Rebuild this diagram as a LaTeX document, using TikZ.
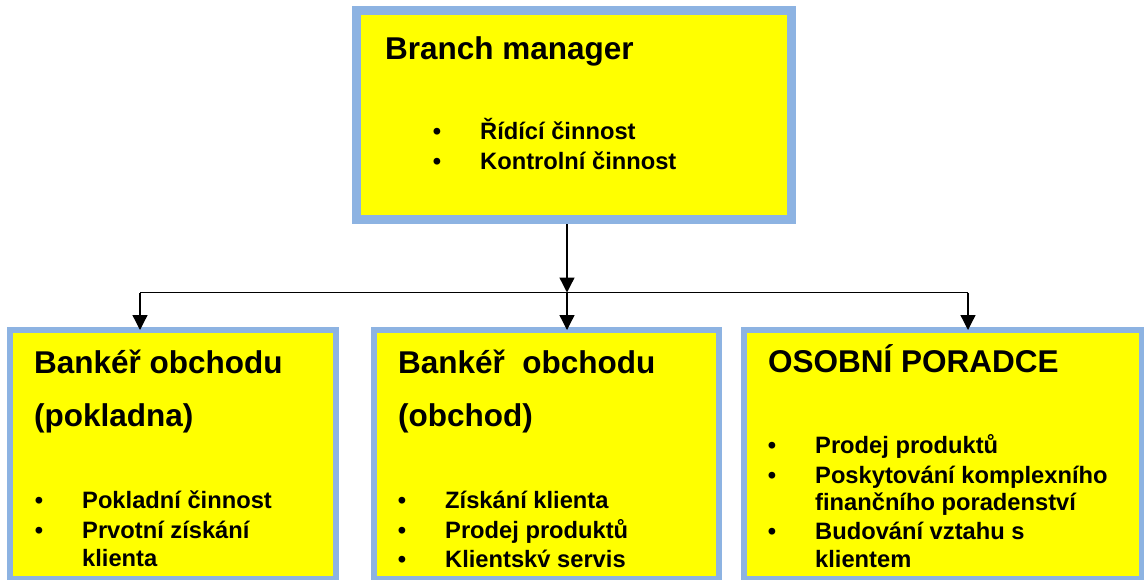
\documentclass[tikz,border=0pt]{standalone}
\usepackage{fontspec}
\setmainfont{Liberation Sans}
\usetikzlibrary{arrows.meta}
\definecolor{boxblue}{RGB}{141,179,226}
\definecolor{boxyellow}{RGB}{255,255,0}
\newcommand{\bmfont}{\fontsize{31.5}{36}\selectfont\bfseries}
\newcommand{\ttlfont}{\fontsize{31.5}{36}\selectfont\bfseries}
\newcommand{\itmfont}{\fontsize{23.7}{28}\selectfont\bfseries}
\tikzset{
  topbox/.style={draw=boxblue, fill=boxyellow, line width=7pt, inner sep=0pt, outer sep=3.5pt},
  lowbox/.style={draw=boxblue, fill=boxyellow, line width=6pt, inner sep=0pt, outer sep=0pt},
  innerline/.style={draw=boxblue, line width=1.7pt},
  ttl/.style={anchor=base west, inner sep=0pt, font=\ttlfont},
  itm/.style={anchor=base west, inner sep=0pt, font=\itmfont},
  bul/.style={anchor=base, inner sep=0pt, font=\itmfont},
  link/.style={line width=1.3pt},
  arr/.style={link, -{Triangle[width=15pt,length=15pt]}}
}
\begin{document}
\begin{tikzpicture}[x=1pt,y=-1pt]
\path[use as bounding box] (0,0) rectangle (1144,579);
\clip (0,0) rectangle (1144,579);
% boxes
\node[topbox, minimum width=437pt, minimum height=211pt] (bm) at (574,115) {};
\draw[innerline] ([shift={(8,8)}]bm.north west) rectangle ([shift={(-8,-8)}]bm.south east);
\node[lowbox, minimum width=326pt, minimum height=249pt] (b1) at (173,454.5) {};
\node[lowbox, minimum width=345pt, minimum height=249pt] (b2) at (546.5,454.5) {};
\node[lowbox, minimum width=398pt, minimum height=249pt] (b3) at (943,454.5) {};
% connectors
\coordinate (j) at (567,292.5);
\coordinate (c1) at (140,292.5);
\coordinate (c3) at (968,292.5);
\draw[arr] (j |- bm.south) -- (j);
\draw[link] (c1) -- (c3);
\draw[arr] (c1) -- (c1 |- b1.north);
\draw[arr] (j) -- (j |- b2.north);
\draw[arr] (c3) -- (c3 |- b3.north);
% top box text
\node[ttl, font=\bmfont] (bmt) at (385,59) {Branch manager};
\node[bul] (bmd1) at (437,139.3) {•};
\node[itm] (bmi1) at (480,139.3) {Řídící činnost};
\node[bul] (bmd2) at (437,169) {•};
\node[itm] (bmi2) at (480,169) {Kontrolní činnost};
% box 1
\node[ttl] (b1t1) at (34,373) {Bankéř obchodu};
\node[ttl] (b1t2) at (34,426) {(pokladna)};
\node[bul] (b1d1) at (39,508) {•};
\node[itm] (b1i1) at (82,508) {Pokladní činnost};
\node[bul] (b1d2) at (39,538) {•};
\node[itm] (b1i2) at (82,538) {Prvotní získání};
\node[itm] (b1i3) at (82,566) {klienta};
% box 2
\node[ttl] (b2t1) at (398,373) {Bankéř\ \ obchodu};
\node[ttl] (b2t2) at (398,426) {(obchod)};
\node[bul] (b2d1) at (402,508) {•};
\node[itm] (b2i1) at (445,508) {Získání klienta};
\node[bul] (b2d2) at (402,538) {•};
\node[itm] (b2i2) at (445,538) {Prodej produktů};
\node[bul] (b2d3) at (402,567) {•};
\node[itm] (b2i3) at (445,567) {Klientsk\'{v} servis};
% box 3
\node[ttl] (b3t1) at (768,372) {OSOBNÍ PORADCE};
\node[bul] (b3d1) at (772,453) {•};
\node[itm] (b3i1) at (815,453) {Prodej produktů};
\node[bul] (b3d2) at (772,483) {•};
\node[itm] (b3i2) at (815,483) {Poskytování komplexního};
\node[itm] (b3i3) at (815,510) {finančního poradenství};
\node[bul] (b3d3) at (772,539) {•};
\node[itm] (b3i4) at (815,539) {Budování vztahu s};
\node[itm] (b3i5) at (815,567) {klientem};
\end{tikzpicture}
\end{document}
